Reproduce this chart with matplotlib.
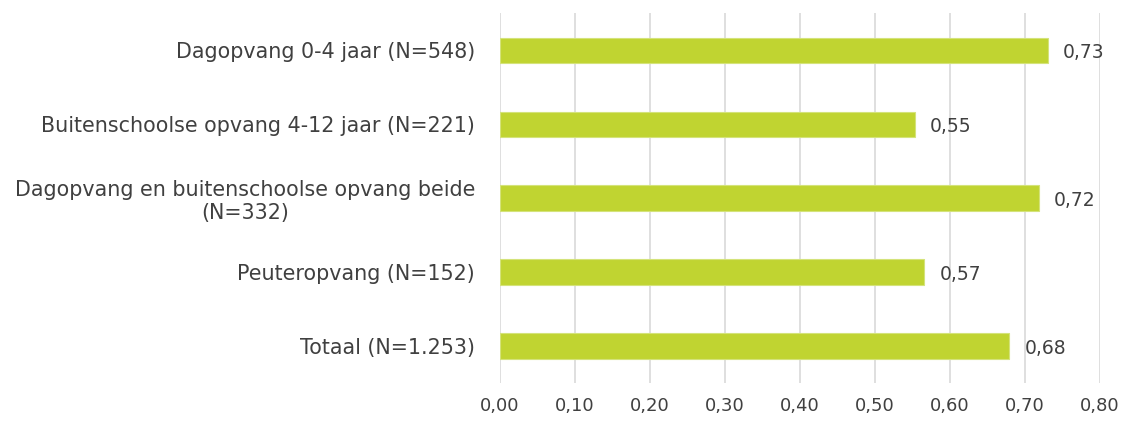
import numpy as np
import matplotlib.pyplot as plt
from matplotlib.ticker import FuncFormatter

categories = ['Dagopvang 0-4 jaar (N=548)',
              'Buitenschoolse opvang 4-12 jaar (N=221)',
              'Dagopvang en buitenschoolse opvang beide\n(N=332)',
              'Peuteropvang (N=152)',
              'Totaal (N=1.253)']
values = [0.73, 0.553, 0.718, 0.566, 0.679]
value_labels = ['0,73', '0,55', '0,72', '0,57', '0,68']
xticks = [0.0, 0.1, 0.2, 0.3, 0.4, 0.5, 0.6, 0.7, 0.8]

txt = '#404040'
fig = plt.figure(figsize=(11.22, 4.25), dpi=100)
ax = fig.add_axes([0.4456, 0.099, 0.5348, 0.87])

y = np.arange(len(categories))
ax.barh(y, values, height=0.34, color='#C0D431', edgecolor='#D4E37A', linewidth=0.8, zorder=3)
for yi, v, lab in zip(y, values, value_labels):
    ax.text(v + 0.02, yi + 0.03, lab, va='center', ha='left', fontsize=13.5, color=txt)

ax.set_yticks(y)
ax.set_yticklabels(categories, fontsize=14.9, color=txt, multialignment='center')
ax.set_ylim(len(categories) - 0.5, -0.5)
ax.set_xlim(0, 0.8)
ax.set_xticks(xticks)
ax.xaxis.set_major_formatter(FuncFormatter(lambda x, p: ('%.2f' % x).replace('.', ',')))
ax.tick_params(axis='x', labelsize=13, colors=txt, length=0, pad=10)
ax.tick_params(axis='y', length=0, pad=18)
ax.grid(axis='x', color='#D9D9D9', linewidth=1.2, zorder=0)
for s in ax.spines.values():
    s.set_visible(False)

fig.savefig('out.png', dpi=100)
